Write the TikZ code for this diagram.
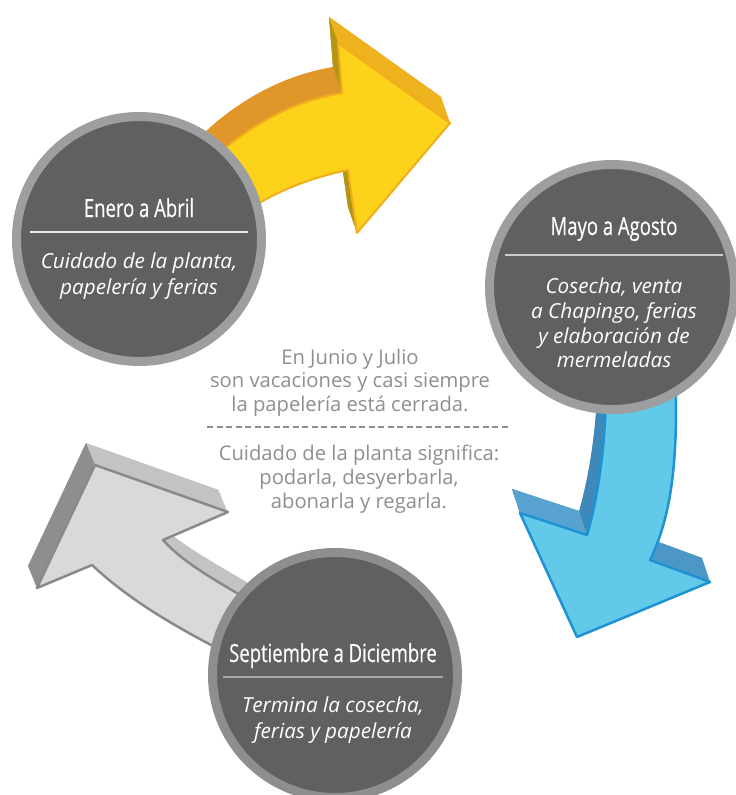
\documentclass[tikz,border=0pt]{standalone}
\usepackage{fontspec}
\newfontfamily\titlefont[FakeStretch=0.74,FakeBold=0.3]{Open Sans}
\newfontfamily\bodyfont{Open Sans}
\newfontfamily\notefont{Open Sans}
\definecolor{ringgray}{HTML}{9D9EA0}
\definecolor{circfill}{HTML}{5F6062}
\definecolor{yface}{HTML}{FDD21B}
\definecolor{yedge}{HTML}{F2AE1A}
\definecolor{yside}{HTML}{E1962A}
\definecolor{ytop}{HTML}{EFB21F}
\definecolor{yolive}{HTML}{B39612}
\definecolor{bface}{HTML}{62C9E9}
\definecolor{bedge}{HTML}{1E93D3}
\definecolor{bside}{HTML}{3F88BA}
\definecolor{blwing}{HTML}{58A2CF}
\definecolor{brwing}{HTML}{4D97C6}
\definecolor{gface}{HTML}{D9D9D9}
\definecolor{gedge}{HTML}{8A8A8A}
\definecolor{gside}{HTML}{C3C3C3}
\definecolor{gdark}{HTML}{8E8E8E}
\definecolor{notegray}{HTML}{8F8F8F}
\tikzset{
  ypath/.style={insert path={(180,195) .. controls (215,150) and (270,105) .. (342,93) -- (338,43) -- (450,123) -- (357,233) -- (348,170) .. controls (300,180) and (250,200) .. (205,245) -- cycle}},
  bpath/.style={insert path={(606,350) .. controls (608,430) and (600,490) .. (587,535) -- (520,513) -- (577,637) -- (710,582) -- (650,560) .. controls (672,515) and (680,455) .. (674,350) -- cycle}},
  gpath/.style={insert path={(163,540) .. controls (190,570) and (235,590) .. (290,625) -- (270,675) .. controls (200,640) and (140,610) .. (92,565) -- (37,588) -- (95,465) -- (228,512) -- cycle}},
  disc/.style={circle, fill=circfill, draw=ringgray, line width=9pt, minimum size=245pt, inner sep=0pt},
  titletext/.style={anchor=base, text=white, font=\titlefont\fontsize{25}{29}\selectfont, inner sep=0pt},
  desctext/.style={anchor=base, text=white, font=\bodyfont\itshape\fontsize{20.7}{24}\selectfont, inner sep=0pt},
  notetext/.style={anchor=base, text=notegray, font=\notefont\fontsize{20.2}{24}\selectfont, inner sep=0pt},
  sepline/.style={line width=1.2pt},
}
\begin{document}
\begin{tikzpicture}[x=1pt,y=-1pt]
\useasboundingbox (0,0) rectangle (736,795);
\fill[white] (0,0) rectangle (736,795);

% ---- yellow arrow ----
\foreach \k in {1,...,26} {\fill[yside, shift={({-9*\k/26},{-26*\k/26})}, ypath];}
\fill[ytop] (338,43) -- (450,123) -- (441,97) -- (329,17) -- cycle;
\fill[yolive] (338,43) -- (342,93) -- (333,67) -- (329,17) -- cycle;
\fill[yolive] (348,170) -- (357,233) -- (348,207) -- (339,144) -- cycle;
\fill[yface, draw=yedge, line width=2pt, line join=round, ypath];

% ---- blue arrow ----
\foreach \k in {1,...,26} {\fill[bside, shift={({-8*\k/26},{-24*\k/26})}, bpath];}
\fill[blwing] (520,513) -- (587,535) -- (579,511) -- (512,489) -- cycle;
\fill[brwing] (650,560) -- (710,582) -- (702,558) -- (642,536) -- cycle;
\fill[bface, draw=bedge, line width=2.5pt, line join=round, bpath];

% ---- gray arrow ----
\foreach \k in {1,...,24} {\fill[gside, shift={({-9*\k/24},{-22*\k/24})}, gpath];}
\fill[gdark] (95,465) -- (37,588) -- (28,566) -- (86,443) -- cycle;
\fill[gface, draw=gedge, line width=2.5pt, line join=round, gpath];

% ---- circles ----
\node[disc] (c1) at (139,239) {};
\node[disc] (c2) at (612,287) {};
\node[disc, draw=ringgray!90!black] (c3) at (335,675) {};

\node[titletext] (t1) at (139,217) {Enero a Abril};
\draw[sepline, white!92!black] (30,232) -- (248,232);
\node[desctext] (d1a) at (139,268) {Cuidado de la planta,};
\node[desctext] (d1b) at (139,294) {papelería y ferias};

\node[titletext] (t2) at (614,235) {Mayo a Agosto};
\draw[sepline, white!80!black] (505,255) -- (723,255);
\node[desctext] (d2a) at (614,293) {Cosecha, venta};
\node[desctext] (d2b) at (614,318) {a Chapingo, ferias};
\node[desctext] (d2c) at (614,343) {y elaboración de};
\node[desctext] (d2d) at (614,367) {mermeladas};

\node[titletext] (t3) at (333,662) {Septiembre a Diciembre};
\draw[sepline, white!65!black] (223,677) -- (443,677);
\node[desctext] (d3a) at (333,712) {Termina la cosecha,};
\node[desctext] (d3b) at (333,738) {ferias y papelería};

% ---- centre note ----
\node[notetext] (n1) at (350,364) {En Junio y Julio};
\node[notetext] (n2) at (350,387) {son vacaciones y casi siempre};
\node[notetext] (n3) at (350,411) {la papelería está cerrada.};
\draw[notegray, line width=1.3pt, dash pattern=on 6pt off 3.5pt] (207,427) -- (508,427);
\node[notetext] (n4) at (359,460) {Cuidado de la planta significa:};
\node[notetext] (n5) at (359,484) {podarla, desyerbarla,};
\node[notetext] (n6) at (359,508) {abonarla y regarla.};
\end{tikzpicture}
\end{document}
